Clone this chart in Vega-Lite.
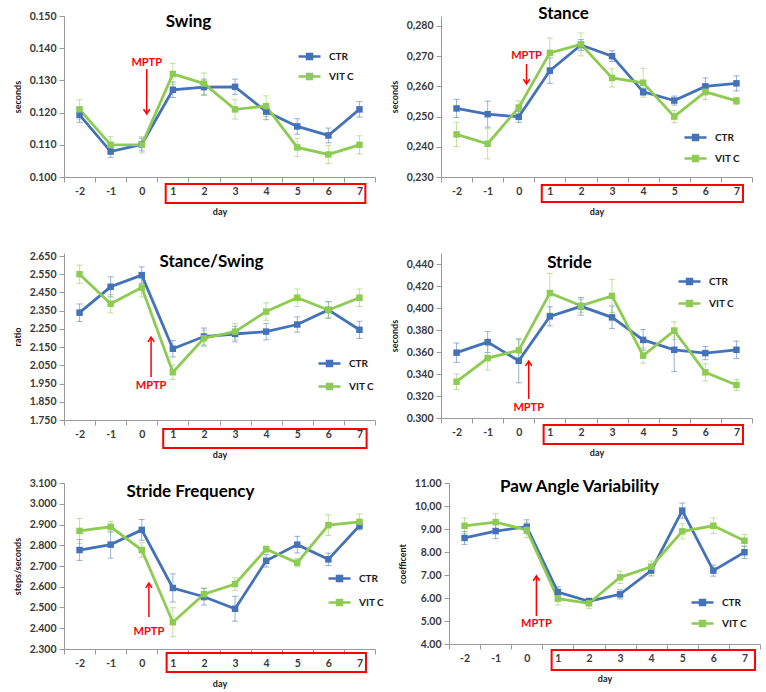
{
  "$schema": "https://vega.github.io/schema/vega-lite/v6.json",
  "padding": {"left": 13, "top": 4, "right": 2, "bottom": 1},
  "datasets": {
    "swing": [
      {"day": -2, "group": "CTR", "mean": 0.1193, "err": 0.0023}, {"day": -1, "group": "CTR", "mean": 0.1079, "err": 0.0018},
      {"day": 0, "group": "CTR", "mean": 0.1101, "err": 0.002}, {"day": 1, "group": "CTR", "mean": 0.1271, "err": 0.0024},
      {"day": 2, "group": "CTR", "mean": 0.1279, "err": 0.0025}, {"day": 3, "group": "CTR", "mean": 0.128, "err": 0.0024},
      {"day": 4, "group": "CTR", "mean": 0.1203, "err": 0.0025}, {"day": 5, "group": "CTR", "mean": 0.1157, "err": 0.0024},
      {"day": 6, "group": "CTR", "mean": 0.1129, "err": 0.0023}, {"day": 7, "group": "CTR", "mean": 0.121, "err": 0.0024},
      {"day": -2, "group": "VIT C", "mean": 0.121, "err": 0.003}, {"day": -1, "group": "VIT C", "mean": 0.110, "err": 0.0025},
      {"day": 0, "group": "VIT C", "mean": 0.110, "err": 0.0025}, {"day": 1, "group": "VIT C", "mean": 0.132, "err": 0.0033},
      {"day": 2, "group": "VIT C", "mean": 0.129, "err": 0.0033}, {"day": 3, "group": "VIT C", "mean": 0.121, "err": 0.003},
      {"day": 4, "group": "VIT C", "mean": 0.122, "err": 0.0032}, {"day": 5, "group": "VIT C", "mean": 0.1092, "err": 0.0028},
      {"day": 6, "group": "VIT C", "mean": 0.107, "err": 0.0028}, {"day": 7, "group": "VIT C", "mean": 0.110, "err": 0.0028}
    ],
    "stance": [
      {"day": -2, "group": "CTR", "mean": 0.2527, "err": 0.003}, {"day": -1, "group": "CTR", "mean": 0.2508, "err": 0.0043},
      {"day": 0, "group": "CTR", "mean": 0.2499, "err": 0.0018}, {"day": 1, "group": "CTR", "mean": 0.2652, "err": 0.0042},
      {"day": 2, "group": "CTR", "mean": 0.2737, "err": 0.0018}, {"day": 3, "group": "CTR", "mean": 0.270, "err": 0.0018},
      {"day": 4, "group": "CTR", "mean": 0.2582, "err": 0.0012}, {"day": 5, "group": "CTR", "mean": 0.2553, "err": 0.0015},
      {"day": 6, "group": "CTR", "mean": 0.260, "err": 0.0028}, {"day": 7, "group": "CTR", "mean": 0.261, "err": 0.0025},
      {"day": -2, "group": "VIT C", "mean": 0.2441, "err": 0.004}, {"day": -1, "group": "VIT C", "mean": 0.241, "err": 0.005},
      {"day": 0, "group": "VIT C", "mean": 0.253, "err": 0.0022}, {"day": 1, "group": "VIT C", "mean": 0.2711, "err": 0.0049},
      {"day": 2, "group": "VIT C", "mean": 0.2739, "err": 0.0038}, {"day": 3, "group": "VIT C", "mean": 0.2628, "err": 0.003},
      {"day": 4, "group": "VIT C", "mean": 0.2612, "err": 0.0048}, {"day": 5, "group": "VIT C", "mean": 0.250, "err": 0.002},
      {"day": 6, "group": "VIT C", "mean": 0.2582, "err": 0.0025}, {"day": 7, "group": "VIT C", "mean": 0.2552, "err": 0.0012}
    ],
    "ratio": [
      {"day": -2, "group": "CTR", "mean": 2.339, "err": 0.048}, {"day": -1, "group": "CTR", "mean": 2.481, "err": 0.055},
      {"day": 0, "group": "CTR", "mean": 2.545, "err": 0.045}, {"day": 1, "group": "CTR", "mean": 2.141, "err": 0.045},
      {"day": 2, "group": "CTR", "mean": 2.208, "err": 0.047}, {"day": 3, "group": "CTR", "mean": 2.222, "err": 0.043},
      {"day": 4, "group": "CTR", "mean": 2.235, "err": 0.045}, {"day": 5, "group": "CTR", "mean": 2.274, "err": 0.042},
      {"day": 6, "group": "CTR", "mean": 2.354, "err": 0.045}, {"day": 7, "group": "CTR", "mean": 2.245, "err": 0.047},
      {"day": -2, "group": "VIT C", "mean": 2.550, "err": 0.05}, {"day": -1, "group": "VIT C", "mean": 2.388, "err": 0.05},
      {"day": 0, "group": "VIT C", "mean": 2.477, "err": 0.052}, {"day": 1, "group": "VIT C", "mean": 2.012, "err": 0.04},
      {"day": 2, "group": "VIT C", "mean": 2.199, "err": 0.045}, {"day": 3, "group": "VIT C", "mean": 2.235, "err": 0.045},
      {"day": 4, "group": "VIT C", "mean": 2.345, "err": 0.048}, {"day": 5, "group": "VIT C", "mean": 2.421, "err": 0.048},
      {"day": 6, "group": "VIT C", "mean": 2.354, "err": 0.045}, {"day": 7, "group": "VIT C", "mean": 2.421, "err": 0.048}
    ],
    "stride": [
      {"day": -2, "group": "CTR", "mean": 0.3594, "err": 0.0088}, {"day": -1, "group": "CTR", "mean": 0.369, "err": 0.0095},
      {"day": 0, "group": "CTR", "mean": 0.352, "err": 0.02}, {"day": 1, "group": "CTR", "mean": 0.3924, "err": 0.0087},
      {"day": 2, "group": "CTR", "mean": 0.4015, "err": 0.008}, {"day": 3, "group": "CTR", "mean": 0.3915, "err": 0.0103},
      {"day": 4, "group": "CTR", "mean": 0.371, "err": 0.0094}, {"day": 5, "group": "CTR", "mean": 0.362, "err": 0.0197},
      {"day": 6, "group": "CTR", "mean": 0.359, "err": 0.006}, {"day": 7, "group": "CTR", "mean": 0.362, "err": 0.0079},
      {"day": -2, "group": "VIT C", "mean": 0.333, "err": 0.007}, {"day": -1, "group": "VIT C", "mean": 0.3545, "err": 0.011},
      {"day": 0, "group": "VIT C", "mean": 0.3615, "err": 0.0095}, {"day": 1, "group": "VIT C", "mean": 0.4136, "err": 0.018},
      {"day": 2, "group": "VIT C", "mean": 0.402, "err": 0.006}, {"day": 3, "group": "VIT C", "mean": 0.411, "err": 0.015},
      {"day": 4, "group": "VIT C", "mean": 0.3567, "err": 0.0068}, {"day": 5, "group": "VIT C", "mean": 0.3794, "err": 0.008},
      {"day": 6, "group": "VIT C", "mean": 0.3415, "err": 0.0079}, {"day": 7, "group": "VIT C", "mean": 0.330, "err": 0.005}
    ],
    "freq": [
      {"day": -2, "group": "CTR", "mean": 2.777, "err": 0.05}, {"day": -1, "group": "CTR", "mean": 2.803, "err": 0.065},
      {"day": 0, "group": "CTR", "mean": 2.874, "err": 0.05}, {"day": 1, "group": "CTR", "mean": 2.594, "err": 0.068},
      {"day": 2, "group": "CTR", "mean": 2.552, "err": 0.04}, {"day": 3, "group": "CTR", "mean": 2.494, "err": 0.06},
      {"day": 4, "group": "CTR", "mean": 2.725, "err": 0.03}, {"day": 5, "group": "CTR", "mean": 2.803, "err": 0.04},
      {"day": 6, "group": "CTR", "mean": 2.732, "err": 0.03}, {"day": 7, "group": "CTR", "mean": 2.894, "err": 0.02},
      {"day": -2, "group": "VIT C", "mean": 2.869, "err": 0.06}, {"day": -1, "group": "VIT C", "mean": 2.889, "err": 0.027},
      {"day": 0, "group": "VIT C", "mean": 2.777, "err": 0.035}, {"day": 1, "group": "VIT C", "mean": 2.429, "err": 0.07},
      {"day": 2, "group": "VIT C", "mean": 2.564, "err": 0.03}, {"day": 3, "group": "VIT C", "mean": 2.613, "err": 0.03},
      {"day": 4, "group": "VIT C", "mean": 2.781, "err": 0.015}, {"day": 5, "group": "VIT C", "mean": 2.716, "err": 0.02},
      {"day": 6, "group": "VIT C", "mean": 2.897, "err": 0.05}, {"day": 7, "group": "VIT C", "mean": 2.913, "err": 0.037}
    ],
    "paw": [
      {"day": -2, "group": "CTR", "mean": 8.61, "err": 0.28}, {"day": -1, "group": "CTR", "mean": 8.91, "err": 0.33},
      {"day": 0, "group": "CTR", "mean": 9.10, "err": 0.3}, {"day": 1, "group": "CTR", "mean": 6.26, "err": 0.23},
      {"day": 2, "group": "CTR", "mean": 5.86, "err": 0.13}, {"day": 3, "group": "CTR", "mean": 6.16, "err": 0.2},
      {"day": 4, "group": "CTR", "mean": 7.19, "err": 0.23}, {"day": 5, "group": "CTR", "mean": 9.80, "err": 0.33},
      {"day": 6, "group": "CTR", "mean": 7.19, "err": 0.24}, {"day": 7, "group": "CTR", "mean": 7.99, "err": 0.27},
      {"day": -2, "group": "VIT C", "mean": 9.14, "err": 0.34}, {"day": -1, "group": "VIT C", "mean": 9.30, "err": 0.36},
      {"day": 0, "group": "VIT C", "mean": 8.96, "err": 0.34}, {"day": 1, "group": "VIT C", "mean": 5.97, "err": 0.28},
      {"day": 2, "group": "VIT C", "mean": 5.77, "err": 0.22}, {"day": 3, "group": "VIT C", "mean": 6.90, "err": 0.27},
      {"day": 4, "group": "VIT C", "mean": 7.36, "err": 0.25}, {"day": 5, "group": "VIT C", "mean": 8.90, "err": 0.33},
      {"day": 6, "group": "VIT C", "mean": 9.14, "err": 0.34}, {"day": 7, "group": "VIT C", "mean": 8.49, "err": 0.27}
    ]
  },
  "config": {
    "view": {"stroke": null},
    "font": "Lato",
    "axis": {"grid": false, "domainColor": "#9a9a9a", "tickColor": "#9a9a9a", "tickSize": 5, "labelColor": "#3a3a3a", "labelFont": "Lato", "labelFontWeight": "bold", "labelFontSize": 10.5, "labelOverlap": false, "titleFont": "Lato", "titleFontSize": 9, "titleFontWeight": "bold", "titleColor": "#1a1a1a"},
    "axisX": {"labelAngle": 0, "labelPadding": 4, "titlePadding": 11, "tickBand": "extent"},
    "axisY": {"labelPadding": 3, "titlePadding": 7, "labelFlush": false, "labelOverlap": false},
    "legend": {"symbolType": "M-2.2,0H2.2M-0.5,-0.5H0.5V0.5H-0.5Z", "symbolSize": 100, "symbolStrokeWidth": 2.5, "symbolOpacity": 1, "labelFont": "Lato", "labelFontSize": 10, "labelFontWeight": "bold", "labelColor": "#1a1a1a", "labelOffset": 13, "padding": 0, "title": null},
    "title": {"font": "Lato", "fontSize": 17, "fontWeight": "bold", "color": "#000000", "frame": "group", "anchor": "middle", "baseline": "alphabetic"}
  },
  "spacing": 34,
  "resolve": {"legend": {"color": "independent"}},
  "vconcat": [
    {
      "hconcat": [
        {
          "width": 311, "height": 161,
          "title": {"text": "Swing", "dx": -31, "offset": -20},
          "layer": [
            {"data": {"name": "swing"}, "mark": {"type": "errorbar", "ticks": {"size": 6}, "thickness": 1, "opacity": 0.55},
             "encoding": {"x": {"field": "day", "type": "ordinal", "title": "day"}, "y": {"field": "mean", "type": "quantitative", "title": "seconds", "axis": {"values": [0.1, 0.11, 0.12, 0.13, 0.14, 0.15], "format": ".3f", "labelOverlap": false}}, "yError": {"field": "err"},
               "color": {"field": "group", "type": "nominal", "scale": {"domain": ["CTR", "VIT C"], "range": ["#4472B8", "#8DCB52"]}, "legend": {"orient": "none", "legendX": 239, "legendY": 34, "rowPadding": 5}}}},
            {"data": {"name": "swing"}, "mark": {"type": "line", "strokeWidth": 2.8},
             "encoding": {"x": {"field": "day", "type": "ordinal", "title": "day", "scale": {"type": "band", "domain": [-2, -1, 0, 1, 2, 3, 4, 5, 6, 7], "paddingInner": 0, "paddingOuter": 0}},
               "y": {"field": "mean", "type": "quantitative", "title": "seconds", "scale": {"domain": [0.1, 0.15], "nice": false, "zero": false}, "axis": {"values": [0.1, 0.11, 0.12, 0.13, 0.14, 0.15], "format": ".3f", "labelOverlap": false}},
               "color": {"field": "group", "type": "nominal", "scale": {"domain": ["CTR", "VIT C"], "range": ["#4472B8", "#8DCB52"]}, "legend": {"orient": "none", "legendX": 239, "legendY": 34, "rowPadding": 5}}}},
            {"data": {"name": "swing"}, "mark": {"type": "square", "size": 42, "opacity": 1},
             "encoding": {"x": {"field": "day", "type": "ordinal", "title": "day"}, "y": {"field": "mean", "type": "quantitative", "title": "seconds", "axis": {"values": [0.1, 0.11, 0.12, 0.13, 0.14, 0.15], "format": ".3f", "labelOverlap": false}},
               "color": {"field": "group", "type": "nominal", "scale": {"domain": ["CTR", "VIT C"], "range": ["#4472B8", "#8DCB52"]}, "legend": {"orient": "none", "legendX": 239, "legendY": 34, "rowPadding": 5}}}},
            {"data": {"values": [{}]}, "mark": {"type": "text", "text": "MPTP", "color": "#FF0000", "fontWeight": "bold", "fontSize": 11, "font": "Lato", "baseline": "middle"},
             "encoding": {"x": {"datum": 0, "type": "ordinal", "bandPosition": 0.66, "title": "day"}, "y": {"datum": 0.1354, "type": "quantitative", "title": "seconds", "axis": {"values": [0.1, 0.11, 0.12, 0.13, 0.14, 0.15], "format": ".3f", "labelOverlap": false}}}},
            {"data": {"values": [{}]}, "mark": {"type": "rule", "color": "#FF0000", "strokeWidth": 1.5},
             "encoding": {"x": {"datum": 0, "type": "ordinal", "bandPosition": 0.66, "title": "day"}, "y": {"datum": 0.1335, "type": "quantitative", "title": "seconds", "axis": {"values": [0.1, 0.11, 0.12, 0.13, 0.14, 0.15], "format": ".3f", "labelOverlap": false}}, "y2": {"datum": 0.1197}}},
            {"data": {"values": [{}]}, "mark": {"type": "point", "shape": "M-0.8,-1.2L0,0L0.8,-1.2", "filled": false, "color": "#FF0000", "strokeWidth": 1.5, "size": 64, "opacity": 1},
             "encoding": {"x": {"datum": 0, "type": "ordinal", "bandPosition": 0.66, "title": "day"}, "y": {"datum": 0.1196, "type": "quantitative", "title": "seconds", "axis": {"values": [0.1, 0.11, 0.12, 0.13, 0.14, 0.15], "format": ".3f", "labelOverlap": false}}}},
            {"data": {"values": [{}]}, "mark": {"type": "rect", "filled": false, "color": "#FF0000", "strokeWidth": 2},
             "encoding": {"x": {"datum": 1, "type": "ordinal", "bandPosition": 0.27, "title": "day"}, "x2": {"datum": 7, "bandPosition": 0.69}, "y": {"datum": 0.09783, "type": "quantitative", "title": "seconds", "axis": {"values": [0.1, 0.11, 0.12, 0.13, 0.14, 0.15], "format": ".3f", "labelOverlap": false}}, "y2": {"datum": 0.09193}}}
          ]
        },
        {
          "width": 311, "height": 161,
          "title": {"text": "Stance", "dx": -33, "offset": -6.5},
          "layer": [
            {"data": {"name": "stance"}, "mark": {"type": "errorbar", "ticks": {"size": 6}, "thickness": 1, "opacity": 0.55},
             "encoding": {"x": {"field": "day", "type": "ordinal", "title": "day"}, "y": {"field": "mean", "type": "quantitative", "title": "seconds", "axis": {"values": [0.23, 0.24, 0.25, 0.26, 0.27, 0.28], "labelExpr": "replace(format(datum.value, '.3f'), '.', ',')", "labelOverlap": false}}, "yError": {"field": "err"},
               "color": {"field": "group", "type": "nominal", "scale": {"domain": ["CTR", "VIT C"], "range": ["#4472B8", "#8DCB52"]}, "legend": {"orient": "none", "legendX": 248, "legendY": 115, "rowPadding": 6}}}},
            {"data": {"name": "stance"}, "mark": {"type": "line", "strokeWidth": 2.8},
             "encoding": {"x": {"field": "day", "type": "ordinal", "title": "day", "scale": {"type": "band", "domain": [-2, -1, 0, 1, 2, 3, 4, 5, 6, 7], "paddingInner": 0, "paddingOuter": 0}},
               "y": {"field": "mean", "type": "quantitative", "title": "seconds", "scale": {"domain": [0.23, 0.2833], "nice": false, "zero": false}, "axis": {"values": [0.23, 0.24, 0.25, 0.26, 0.27, 0.28], "labelExpr": "replace(format(datum.value, '.3f'), '.', ',')", "labelOverlap": false}},
               "color": {"field": "group", "type": "nominal", "scale": {"domain": ["CTR", "VIT C"], "range": ["#4472B8", "#8DCB52"]}, "legend": {"orient": "none", "legendX": 248, "legendY": 115, "rowPadding": 6}}}},
            {"data": {"name": "stance"}, "mark": {"type": "square", "size": 42, "opacity": 1},
             "encoding": {"x": {"field": "day", "type": "ordinal", "title": "day"}, "y": {"field": "mean", "type": "quantitative", "title": "seconds", "axis": {"values": [0.23, 0.24, 0.25, 0.26, 0.27, 0.28], "labelExpr": "replace(format(datum.value, '.3f'), '.', ',')", "labelOverlap": false}},
               "color": {"field": "group", "type": "nominal", "scale": {"domain": ["CTR", "VIT C"], "range": ["#4472B8", "#8DCB52"]}, "legend": {"orient": "none", "legendX": 248, "legendY": 115, "rowPadding": 6}}}},
            {"data": {"values": [{}]}, "mark": {"type": "text", "text": "MPTP", "color": "#FF0000", "fontWeight": "bold", "fontSize": 11, "font": "Lato", "baseline": "middle"},
             "encoding": {"x": {"datum": 0, "type": "ordinal", "bandPosition": 0.75, "title": "day"}, "y": {"datum": 0.2701, "type": "quantitative", "title": "seconds", "axis": {"values": [0.23, 0.24, 0.25, 0.26, 0.27, 0.28], "labelExpr": "replace(format(datum.value, '.3f'), '.', ',')", "labelOverlap": false}}}},
            {"data": {"values": [{}]}, "mark": {"type": "rule", "color": "#FF0000", "strokeWidth": 1.5},
             "encoding": {"x": {"datum": 0, "type": "ordinal", "bandPosition": 0.75, "title": "day"}, "y": {"datum": 0.2674, "type": "quantitative", "title": "seconds", "axis": {"values": [0.23, 0.24, 0.25, 0.26, 0.27, 0.28], "labelExpr": "replace(format(datum.value, '.3f'), '.', ',')", "labelOverlap": false}}, "y2": {"datum": 0.2609}}},
            {"data": {"values": [{}]}, "mark": {"type": "point", "shape": "M-0.8,-1.2L0,0L0.8,-1.2", "filled": false, "color": "#FF0000", "strokeWidth": 1.5, "size": 64, "opacity": 1},
             "encoding": {"x": {"datum": 0, "type": "ordinal", "bandPosition": 0.75, "title": "day"}, "y": {"datum": 0.2608, "type": "quantitative", "title": "seconds", "axis": {"values": [0.23, 0.24, 0.25, 0.26, 0.27, 0.28], "labelExpr": "replace(format(datum.value, '.3f'), '.', ',')", "labelOverlap": false}}}},
            {"data": {"values": [{}]}, "mark": {"type": "rect", "filled": false, "color": "#FF0000", "strokeWidth": 2},
             "encoding": {"x": {"datum": 1, "type": "ordinal", "bandPosition": 0.24, "title": "day"}, "x2": {"datum": 7, "bandPosition": 0.71}, "y": {"datum": 0.22735, "type": "quantitative", "title": "seconds", "axis": {"values": [0.23, 0.24, 0.25, 0.26, 0.27, 0.28], "labelExpr": "replace(format(datum.value, '.3f'), '.', ',')", "labelOverlap": false}}, "y2": {"datum": 0.22172}}}
          ]
        }
      ],
      "spacing": 14,
      "resolve": {"legend": {"color": "independent"}}
    },
    {
      "vconcat": [
        {
          "hconcat": [
            {
              "width": 311, "height": 167,
              "title": {"text": "Stance/Swing", "dx": -8, "offset": -20},
              "layer": [
                {"data": {"name": "ratio"}, "mark": {"type": "errorbar", "ticks": {"size": 6}, "thickness": 1, "opacity": 0.55},
                 "encoding": {"x": {"field": "day", "type": "ordinal", "title": "day"}, "y": {"field": "mean", "type": "quantitative", "title": "ratio", "axis": {"values": [1.75, 1.85, 1.95, 2.05, 2.15, 2.25, 2.35, 2.45, 2.55, 2.65], "format": ".3f", "labelOverlap": false}}, "yError": {"field": "err"},
                   "color": {"field": "group", "type": "nominal", "scale": {"domain": ["CTR", "VIT C"], "range": ["#4472B8", "#8DCB52"]}, "legend": {"orient": "none", "legendX": 259, "legendY": 104, "rowPadding": 8}}}},
                {"data": {"name": "ratio"}, "mark": {"type": "line", "strokeWidth": 2.8},
                 "encoding": {"x": {"field": "day", "type": "ordinal", "title": "day", "scale": {"type": "band", "domain": [-2, -1, 0, 1, 2, 3, 4, 5, 6, 7], "paddingInner": 0, "paddingOuter": 0}},
                   "y": {"field": "mean", "type": "quantitative", "title": "ratio", "scale": {"domain": [1.75, 2.6665], "nice": false, "zero": false}, "axis": {"values": [1.75, 1.85, 1.95, 2.05, 2.15, 2.25, 2.35, 2.45, 2.55, 2.65], "format": ".3f", "labelOverlap": false}},
                   "color": {"field": "group", "type": "nominal", "scale": {"domain": ["CTR", "VIT C"], "range": ["#4472B8", "#8DCB52"]}, "legend": {"orient": "none", "legendX": 259, "legendY": 104, "rowPadding": 8}}}},
                {"data": {"name": "ratio"}, "mark": {"type": "square", "size": 42, "opacity": 1},
                 "encoding": {"x": {"field": "day", "type": "ordinal", "title": "day"}, "y": {"field": "mean", "type": "quantitative", "title": "ratio", "axis": {"values": [1.75, 1.85, 1.95, 2.05, 2.15, 2.25, 2.35, 2.45, 2.55, 2.65], "format": ".3f", "labelOverlap": false}},
                   "color": {"field": "group", "type": "nominal", "scale": {"domain": ["CTR", "VIT C"], "range": ["#4472B8", "#8DCB52"]}, "legend": {"orient": "none", "legendX": 259, "legendY": 104, "rowPadding": 8}}}},
                {"data": {"values": [{}]}, "mark": {"type": "text", "text": "MPTP", "color": "#FF0000", "fontWeight": "bold", "fontSize": 11, "font": "Lato", "baseline": "middle"},
                 "encoding": {"x": {"datum": 0, "type": "ordinal", "bandPosition": 0.8, "title": "day"}, "y": {"datum": 1.936, "type": "quantitative", "title": "ratio", "axis": {"values": [1.75, 1.85, 1.95, 2.05, 2.15, 2.25, 2.35, 2.45, 2.55, 2.65], "format": ".3f", "labelOverlap": false}}}},
                {"data": {"values": [{}]}, "mark": {"type": "rule", "color": "#FF0000", "strokeWidth": 1.5},
                 "encoding": {"x": {"datum": 0, "type": "ordinal", "bandPosition": 0.8, "title": "day"}, "y": {"datum": 1.986, "type": "quantitative", "title": "ratio", "axis": {"values": [1.75, 1.85, 1.95, 2.05, 2.15, 2.25, 2.35, 2.45, 2.55, 2.65], "format": ".3f", "labelOverlap": false}}, "y2": {"datum": 2.203}}},
                {"data": {"values": [{}]}, "mark": {"type": "point", "shape": "M-0.8,1.2L0,0L0.8,1.2", "filled": false, "color": "#FF0000", "strokeWidth": 1.5, "size": 64, "opacity": 1},
                 "encoding": {"x": {"datum": 0, "type": "ordinal", "bandPosition": 0.8, "title": "day"}, "y": {"datum": 2.205, "type": "quantitative", "title": "ratio", "axis": {"values": [1.75, 1.85, 1.95, 2.05, 2.15, 2.25, 2.35, 2.45, 2.55, 2.65], "format": ".3f", "labelOverlap": false}}}},
                {"data": {"values": [{}]}, "mark": {"type": "rect", "filled": false, "color": "#FF0000", "strokeWidth": 2},
                 "encoding": {"x": {"datum": 1, "type": "ordinal", "bandPosition": 0.19, "title": "day"}, "x2": {"datum": 7, "bandPosition": 0.73}, "y": {"datum": 1.7006, "type": "quantitative", "title": "ratio", "axis": {"values": [1.75, 1.85, 1.95, 2.05, 2.15, 2.25, 2.35, 2.45, 2.55, 2.65], "format": ".3f", "labelOverlap": false}}, "y2": {"datum": 1.5963}}}
              ]
            },
            {
              "width": 311, "height": 165,
              "title": {"text": "Stride", "dx": -27, "offset": -18.5},
              "layer": [
                {"data": {"name": "stride"}, "mark": {"type": "errorbar", "ticks": {"size": 6}, "thickness": 1, "opacity": 0.55},
                 "encoding": {"x": {"field": "day", "type": "ordinal", "title": "day"}, "y": {"field": "mean", "type": "quantitative", "title": "seconds", "axis": {"values": [0.3, 0.32, 0.34, 0.36, 0.38, 0.4, 0.42, 0.44], "labelExpr": "datum.value > 0.39 ? replace(format(datum.value, '.3f'), '.', ',') : format(datum.value, '.3f')", "labelOverlap": false}}, "yError": {"field": "err"},
                   "color": {"field": "group", "type": "nominal", "scale": {"domain": ["CTR", "VIT C"], "range": ["#4472B8", "#8DCB52"]}, "legend": {"orient": "none", "legendX": 242, "legendY": 22, "rowPadding": 7}}}},
                {"data": {"name": "stride"}, "mark": {"type": "line", "strokeWidth": 2.8},
                 "encoding": {"x": {"field": "day", "type": "ordinal", "title": "day", "scale": {"type": "band", "domain": [-2, -1, 0, 1, 2, 3, 4, 5, 6, 7], "paddingInner": 0, "paddingOuter": 0}},
                   "y": {"field": "mean", "type": "quantitative", "title": "seconds", "scale": {"domain": [0.3, 0.45], "nice": false, "zero": false}, "axis": {"values": [0.3, 0.32, 0.34, 0.36, 0.38, 0.4, 0.42, 0.44], "labelExpr": "datum.value > 0.39 ? replace(format(datum.value, '.3f'), '.', ',') : format(datum.value, '.3f')", "labelOverlap": false}},
                   "color": {"field": "group", "type": "nominal", "scale": {"domain": ["CTR", "VIT C"], "range": ["#4472B8", "#8DCB52"]}, "legend": {"orient": "none", "legendX": 242, "legendY": 22, "rowPadding": 7}}}},
                {"data": {"name": "stride"}, "mark": {"type": "square", "size": 42, "opacity": 1},
                 "encoding": {"x": {"field": "day", "type": "ordinal", "title": "day"}, "y": {"field": "mean", "type": "quantitative", "title": "seconds", "axis": {"values": [0.3, 0.32, 0.34, 0.36, 0.38, 0.4, 0.42, 0.44], "labelExpr": "datum.value > 0.39 ? replace(format(datum.value, '.3f'), '.', ',') : format(datum.value, '.3f')", "labelOverlap": false}},
                   "color": {"field": "group", "type": "nominal", "scale": {"domain": ["CTR", "VIT C"], "range": ["#4472B8", "#8DCB52"]}, "legend": {"orient": "none", "legendX": 242, "legendY": 22, "rowPadding": 7}}}},
                {"data": {"values": [{}]}, "mark": {"type": "text", "text": "MPTP", "color": "#FF0000", "fontWeight": "bold", "fontSize": 11, "font": "Lato", "baseline": "middle"},
                 "encoding": {"x": {"datum": 0, "type": "ordinal", "bandPosition": 0.82, "title": "day"}, "y": {"datum": 0.309, "type": "quantitative", "title": "seconds", "axis": {"values": [0.3, 0.32, 0.34, 0.36, 0.38, 0.4, 0.42, 0.44], "labelExpr": "datum.value > 0.39 ? replace(format(datum.value, '.3f'), '.', ',') : format(datum.value, '.3f')", "labelOverlap": false}}}},
                {"data": {"values": [{}]}, "mark": {"type": "rule", "color": "#FF0000", "strokeWidth": 1.5},
                 "encoding": {"x": {"datum": 0, "type": "ordinal", "bandPosition": 0.82, "title": "day"}, "y": {"datum": 0.3173, "type": "quantitative", "title": "seconds", "axis": {"values": [0.3, 0.32, 0.34, 0.36, 0.38, 0.4, 0.42, 0.44], "labelExpr": "datum.value > 0.39 ? replace(format(datum.value, '.3f'), '.', ',') : format(datum.value, '.3f')", "labelOverlap": false}}, "y2": {"datum": 0.3516}}},
                {"data": {"values": [{}]}, "mark": {"type": "point", "shape": "M-0.8,1.2L0,0L0.8,1.2", "filled": false, "color": "#FF0000", "strokeWidth": 1.5, "size": 64, "opacity": 1},
                 "encoding": {"x": {"datum": 0, "type": "ordinal", "bandPosition": 0.82, "title": "day"}, "y": {"datum": 0.3518, "type": "quantitative", "title": "seconds", "axis": {"values": [0.3, 0.32, 0.34, 0.36, 0.38, 0.4, 0.42, 0.44], "labelExpr": "datum.value > 0.39 ? replace(format(datum.value, '.3f'), '.', ',') : format(datum.value, '.3f')", "labelOverlap": false}}}},
                {"data": {"values": [{}]}, "mark": {"type": "rect", "filled": false, "color": "#FF0000", "strokeWidth": 2},
                 "encoding": {"x": {"datum": 1, "type": "ordinal", "bandPosition": 0.3, "title": "day"}, "x2": {"datum": 7, "bandPosition": 0.71}, "y": {"datum": 0.29364, "type": "quantitative", "title": "seconds", "axis": {"values": [0.3, 0.32, 0.34, 0.36, 0.38, 0.4, 0.42, 0.44], "labelExpr": "datum.value > 0.39 ? replace(format(datum.value, '.3f'), '.', ',') : format(datum.value, '.3f')", "labelOverlap": false}}, "y2": {"datum": 0.27636}}}
              ]
            }
          ],
          "spacing": 14,
          "resolve": {"legend": {"color": "independent"}}
        },
        {
          "hconcat": [
            {
              "width": 311, "height": 166,
              "title": {"text": "Stride Frequency", "dx": -29, "offset": -22.5},
              "layer": [
                {"data": {"name": "freq"}, "mark": {"type": "errorbar", "ticks": {"size": 6}, "thickness": 1, "opacity": 0.55},
                 "encoding": {"x": {"field": "day", "type": "ordinal", "title": "day"}, "y": {"field": "mean", "type": "quantitative", "title": "steps/seconds", "axis": {"values": [2.3, 2.4, 2.5, 2.6, 2.7, 2.8, 2.9, 3.0, 3.1], "format": ".3f", "labelOverlap": false}}, "yError": {"field": "err"},
                   "color": {"field": "group", "type": "nominal", "scale": {"domain": ["CTR", "VIT C"], "range": ["#4472B8", "#8DCB52"]}, "legend": {"orient": "none", "legendX": 269, "legendY": 89, "rowPadding": 9}}}},
                {"data": {"name": "freq"}, "mark": {"type": "line", "strokeWidth": 2.8},
                 "encoding": {"x": {"field": "day", "type": "ordinal", "title": "day", "scale": {"type": "band", "domain": [-2, -1, 0, 1, 2, 3, 4, 5, 6, 7], "paddingInner": 0, "paddingOuter": 0}},
                   "y": {"field": "mean", "type": "quantitative", "title": "steps/seconds", "scale": {"domain": [2.3, 3.1], "nice": false, "zero": false}, "axis": {"values": [2.3, 2.4, 2.5, 2.6, 2.7, 2.8, 2.9, 3.0, 3.1], "format": ".3f", "labelOverlap": false}},
                   "color": {"field": "group", "type": "nominal", "scale": {"domain": ["CTR", "VIT C"], "range": ["#4472B8", "#8DCB52"]}, "legend": {"orient": "none", "legendX": 269, "legendY": 89, "rowPadding": 9}}}},
                {"data": {"name": "freq"}, "mark": {"type": "square", "size": 42, "opacity": 1},
                 "encoding": {"x": {"field": "day", "type": "ordinal", "title": "day"}, "y": {"field": "mean", "type": "quantitative", "title": "steps/seconds", "axis": {"values": [2.3, 2.4, 2.5, 2.6, 2.7, 2.8, 2.9, 3.0, 3.1], "format": ".3f", "labelOverlap": false}},
                   "color": {"field": "group", "type": "nominal", "scale": {"domain": ["CTR", "VIT C"], "range": ["#4472B8", "#8DCB52"]}, "legend": {"orient": "none", "legendX": 269, "legendY": 89, "rowPadding": 9}}}},
                {"data": {"values": [{}]}, "mark": {"type": "text", "text": "MPTP", "color": "#FF0000", "fontWeight": "bold", "fontSize": 11, "font": "Lato", "baseline": "middle"},
                 "encoding": {"x": {"datum": 0, "type": "ordinal", "bandPosition": 0.73, "title": "day"}, "y": {"datum": 2.382, "type": "quantitative", "title": "steps/seconds", "axis": {"values": [2.3, 2.4, 2.5, 2.6, 2.7, 2.8, 2.9, 3.0, 3.1], "format": ".3f", "labelOverlap": false}}}},
                {"data": {"values": [{}]}, "mark": {"type": "rule", "color": "#FF0000", "strokeWidth": 1.5},
                 "encoding": {"x": {"datum": 0, "type": "ordinal", "bandPosition": 0.73, "title": "day"}, "y": {"datum": 2.454, "type": "quantitative", "title": "steps/seconds", "axis": {"values": [2.3, 2.4, 2.5, 2.6, 2.7, 2.8, 2.9, 3.0, 3.1], "format": ".3f", "labelOverlap": false}}, "y2": {"datum": 2.616}}},
                {"data": {"values": [{}]}, "mark": {"type": "point", "shape": "M-0.8,1.2L0,0L0.8,1.2", "filled": false, "color": "#FF0000", "strokeWidth": 1.5, "size": 64, "opacity": 1},
                 "encoding": {"x": {"datum": 0, "type": "ordinal", "bandPosition": 0.73, "title": "day"}, "y": {"datum": 2.618, "type": "quantitative", "title": "steps/seconds", "axis": {"values": [2.3, 2.4, 2.5, 2.6, 2.7, 2.8, 2.9, 3.0, 3.1], "format": ".3f", "labelOverlap": false}}}},
                {"data": {"values": [{}]}, "mark": {"type": "rect", "filled": false, "color": "#FF0000", "strokeWidth": 2},
                 "encoding": {"x": {"datum": 1, "type": "ordinal", "bandPosition": 0.3, "title": "day"}, "x2": {"datum": 7, "bandPosition": 0.71}, "y": {"datum": 2.2807, "type": "quantitative", "title": "steps/seconds", "axis": {"values": [2.3, 2.4, 2.5, 2.6, 2.7, 2.8, 2.9, 3.0, 3.1], "format": ".3f", "labelOverlap": false}}, "y2": {"datum": 2.1892}}}
              ]
            },
            {
              "width": 311, "height": 161,
              "title": {"text": "Paw Angle Variability", "dx": -25, "offset": -18},
              "layer": [
                {"data": {"name": "paw"}, "mark": {"type": "errorbar", "ticks": {"size": 6}, "thickness": 1, "opacity": 0.55},
                 "encoding": {"x": {"field": "day", "type": "ordinal", "title": "day"}, "y": {"field": "mean", "type": "quantitative", "title": "coefficent", "axis": {"values": [4, 5, 6, 7, 8, 9, 10, 11], "labelExpr": "datum.value === 10 ? '10,00' : format(datum.value, '.2f')", "labelOverlap": false}}, "yError": {"field": "err"},
                   "color": {"field": "group", "type": "nominal", "scale": {"domain": ["CTR", "VIT C"], "range": ["#4472B8", "#8DCB52"]}, "legend": {"orient": "none", "legendX": 247, "legendY": 113, "rowPadding": 6}}}},
                {"data": {"name": "paw"}, "mark": {"type": "line", "strokeWidth": 2.8},
                 "encoding": {"x": {"field": "day", "type": "ordinal", "title": "day", "scale": {"type": "band", "domain": [-2, -1, 0, 1, 2, 3, 4, 5, 6, 7], "paddingInner": 0, "paddingOuter": 0}},
                   "y": {"field": "mean", "type": "quantitative", "title": "coefficent", "scale": {"domain": [4, 11], "nice": false, "zero": false}, "axis": {"values": [4, 5, 6, 7, 8, 9, 10, 11], "labelExpr": "datum.value === 10 ? '10,00' : format(datum.value, '.2f')", "labelOverlap": false}},
                   "color": {"field": "group", "type": "nominal", "scale": {"domain": ["CTR", "VIT C"], "range": ["#4472B8", "#8DCB52"]}, "legend": {"orient": "none", "legendX": 247, "legendY": 113, "rowPadding": 6}}}},
                {"data": {"name": "paw"}, "mark": {"type": "square", "size": 42, "opacity": 1},
                 "encoding": {"x": {"field": "day", "type": "ordinal", "title": "day"}, "y": {"field": "mean", "type": "quantitative", "title": "coefficent", "axis": {"values": [4, 5, 6, 7, 8, 9, 10, 11], "labelExpr": "datum.value === 10 ? '10,00' : format(datum.value, '.2f')", "labelOverlap": false}},
                   "color": {"field": "group", "type": "nominal", "scale": {"domain": ["CTR", "VIT C"], "range": ["#4472B8", "#8DCB52"]}, "legend": {"orient": "none", "legendX": 247, "legendY": 113, "rowPadding": 6}}}},
                {"data": {"values": [{}]}, "mark": {"type": "text", "text": "MPTP", "color": "#FF0000", "fontWeight": "bold", "fontSize": 11, "font": "Lato", "baseline": "middle"},
                 "encoding": {"x": {"datum": 0, "type": "ordinal", "bandPosition": 0.81, "title": "day"}, "y": {"datum": 4.87, "type": "quantitative", "title": "coefficent", "axis": {"values": [4, 5, 6, 7, 8, 9, 10, 11], "labelExpr": "datum.value === 10 ? '10,00' : format(datum.value, '.2f')", "labelOverlap": false}}}},
                {"data": {"values": [{}]}, "mark": {"type": "rule", "color": "#FF0000", "strokeWidth": 1.5},
                 "encoding": {"x": {"datum": 0, "type": "ordinal", "bandPosition": 0.81, "title": "day"}, "y": {"datum": 5.22, "type": "quantitative", "title": "coefficent", "axis": {"values": [4, 5, 6, 7, 8, 9, 10, 11], "labelExpr": "datum.value === 10 ? '10,00' : format(datum.value, '.2f')", "labelOverlap": false}}, "y2": {"datum": 6.94}}},
                {"data": {"values": [{}]}, "mark": {"type": "point", "shape": "M-0.8,1.2L0,0L0.8,1.2", "filled": false, "color": "#FF0000", "strokeWidth": 1.5, "size": 64, "opacity": 1},
                 "encoding": {"x": {"datum": 0, "type": "ordinal", "bandPosition": 0.81, "title": "day"}, "y": {"datum": 6.96, "type": "quantitative", "title": "coefficent", "axis": {"values": [4, 5, 6, 7, 8, 9, 10, 11], "labelExpr": "datum.value === 10 ? '10,00' : format(datum.value, '.2f')", "labelOverlap": false}}}},
                {"data": {"values": [{}]}, "mark": {"type": "rect", "filled": false, "color": "#FF0000", "strokeWidth": 2},
                 "encoding": {"x": {"datum": 1, "type": "ordinal", "bandPosition": 0.3, "title": "day"}, "x2": {"datum": 7, "bandPosition": 0.84}, "y": {"datum": 3.74, "type": "quantitative", "title": "coefficent", "axis": {"values": [4, 5, 6, 7, 8, 9, 10, 11], "labelExpr": "datum.value === 10 ? '10,00' : format(datum.value, '.2f')", "labelOverlap": false}}, "y2": {"datum": 2.87}}}
              ]
            }
          ],
          "spacing": 14,
          "resolve": {"legend": {"color": "independent"}}
        }
      ],
      "spacing": 18,
      "resolve": {"legend": {"color": "independent"}}
    }
  ]
}
